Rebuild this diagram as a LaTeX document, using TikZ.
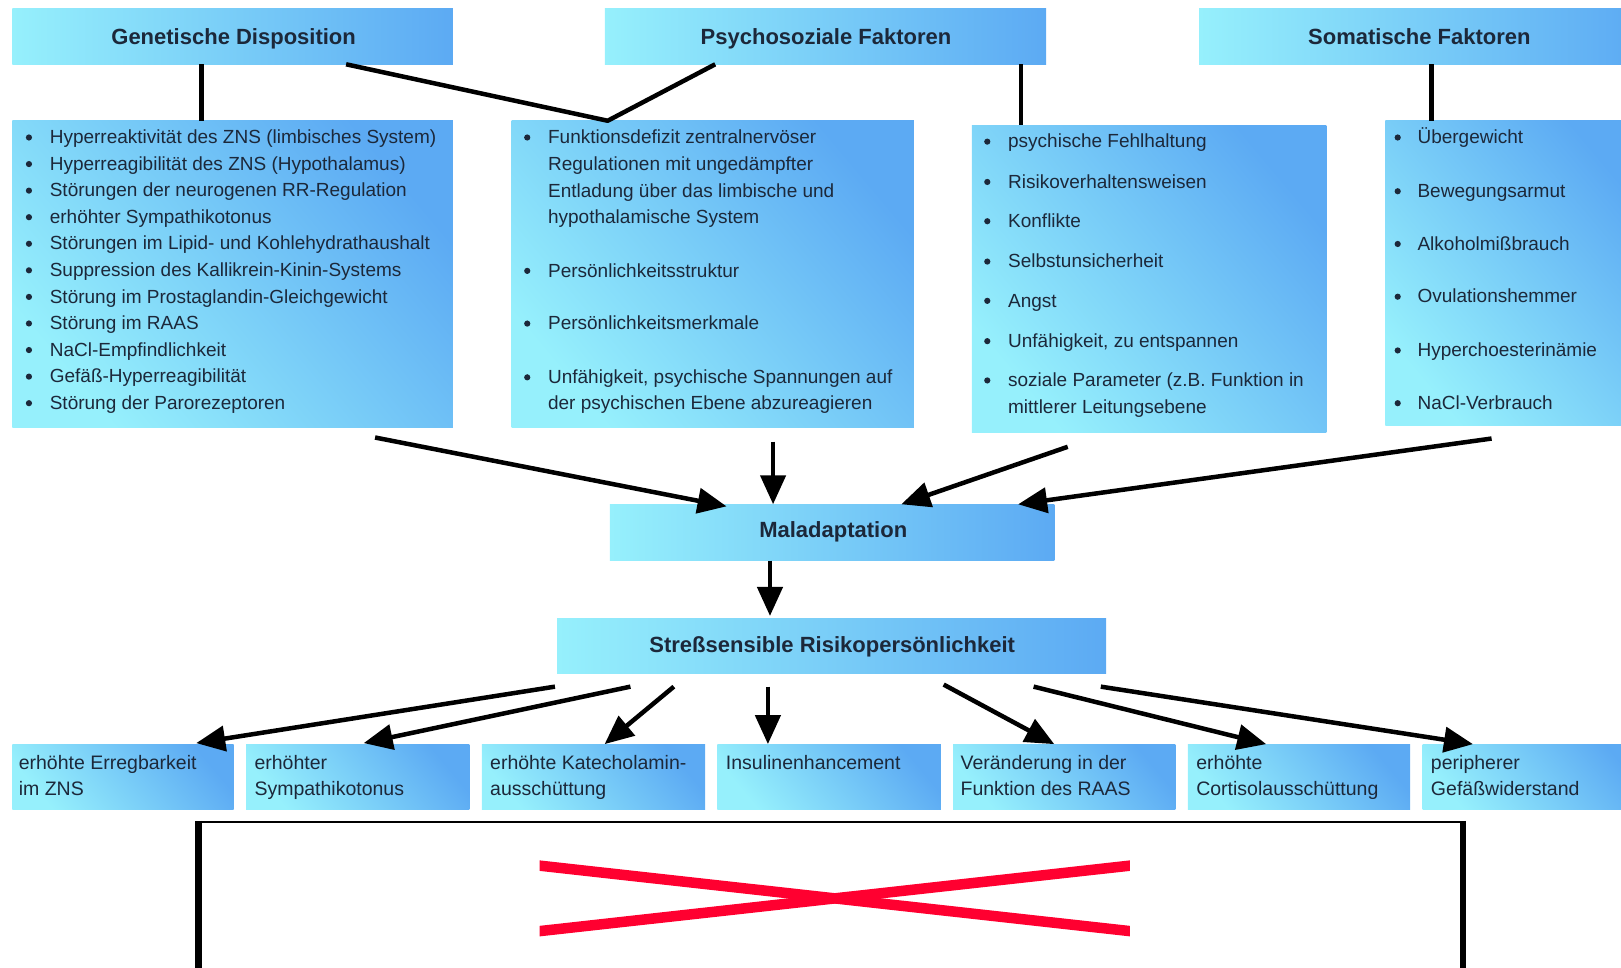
\documentclass[tikz,border=0pt]{standalone}
\usepackage{fontspec}
\setmainfont{Liberation Sans}
\usetikzlibrary{arrows.meta,calc,fit}
\definecolor{cyanL}{RGB}{150,240,252}
\definecolor{blueR}{RGB}{92,170,243}
\definecolor{txtc}{RGB}{28,40,58}
\definecolor{xred}{RGB}{255,0,48}
\newcommand\Li[4]{\node[txt] (#1) at (#2,#3+6) {#4};}
\newcommand\Bu[2]{\fill[txtc] (#1,#2) circle[radius=3.1pt];}
\begin{document}
\begin{tikzpicture}[x=1.0338pt,y=-1.0338pt,
 hbox/.style={inner sep=0pt, left color=cyanL, right color=blueR, draw=none},
 htxt/.style={inner sep=0pt, anchor=base, font=\fontsize{22}{26}\selectfont\bfseries, text=txtc},
 bbox/.style={inner sep=0pt, top color=blueR, bottom color=cyanL, shading angle=-50, draw=none},
 txt/.style={inner sep=0pt, anchor=base west, font=\fontsize{19}{26}\selectfont, text=txtc},
 btxt/.style={inner sep=0pt, anchor=base west, font=\fontsize{19.5}{26}\selectfont, text=txtc},
 arr/.style={line width=4.5pt, -{Triangle[length=29pt,width=25pt]}, black},
 ln/.style={line width=4.5pt, black},
]
\useasboundingbox (0,0) rectangle (1568,936);

% headers
\node[hbox, fit={(12,8) (438,62)}] (gh) {};
\node[hbox, fit={(585,8) (1012,62)}] (ph) {};
\node[hbox, fit={(1160,8) (1586,62)}] (sh) {};
\node[htxt] (ght) at (226,43) {Genetische Disposition};
\node[htxt] (pht) at (799,43) {Psychosoziale Faktoren};
\node[htxt] (sht) at (1373,43) {Somatische Faktoren};

% body boxes
\node[bbox, fit={(12,117) (438,414)}] (gb) {};
\node[bbox, fit={(495,117) (884,414)}] (pb) {};
\node[bbox, fit={(940,121) (1283,418)}] (qb) {};
\node[bbox, fit={(1340,117) (1590,412)}] (sb) {};

% G list
\foreach \i/\t in {0/{Hyperreaktivität des ZNS (limbisches System)},
  1/{Hyperreagibilität des ZNS (Hypothalamus)},
  2/{Störungen der neurogenen RR-Regulation},
  3/{erhöhter Sympathikotonus},
  4/{Störungen im Lipid- und Kohlehydrathaushalt},
  5/{Suppression des Kallikrein-Kinin-Systems},
  6/{Störung im Prostaglandin-Gleichgewicht},
  7/{Störung im RAAS},
  8/{NaCl-Empfindlichkeit},
  9/{Gefäß-Hyperreagibilität},
  10/{Störung der Parorezeptoren}}{
  \pgfmathsetmacro\yy{133+25.7*\i}
  \Bu{28}{\yy}
  \Li{g\i}{48}{\yy}{\t}
}

% P list
\Bu{510}{133}\Li{p1}{530}{133}{Funktionsdefizit zentralnervöser}
\Li{p2}{530}{159}{Regulationen mit ungedämpfter}
\Li{p3}{530}{185}{Entladung über das limbische und}
\Li{p4}{530}{210}{hypothalamische System}
\Bu{510}{262}\Li{p5}{530}{262}{Persönlichkeitsstruktur}
\Bu{510}{313}\Li{p6}{530}{313}{Persönlichkeitsmerkmale}
\Bu{510}{365}\Li{p7}{530}{365}{Unfähigkeit, psychische Spannungen auf}
\Li{p8}{530}{390}{der psychischen Ebene abzureagieren}

% Q list
\Bu{955}{137}\Li{q1}{975}{137}{psychische Fehlhaltung}
\Bu{955}{176}\Li{q2}{975}{176}{Risikoverhaltensweisen}
\Bu{955}{214}\Li{q3}{975}{214}{Konflikte}
\Bu{955}{253}\Li{q4}{975}{253}{Selbstunsicherheit}
\Bu{955}{291}\Li{q5}{975}{291}{Angst}
\Bu{955}{330}\Li{q6}{975}{330}{Unfähigkeit, zu entspannen}
\Bu{955}{368}\Li{q7}{975}{368}{soziale Parameter (z.B. Funktion in}
\Li{q8}{975}{394}{mittlerer Leitungsebene}

% S list
\Bu{1352}{133}\Li{s1}{1371}{133}{Übergewicht}
\Bu{1352}{185}\Li{s2}{1371}{185}{Bewegungsarmut}
\Bu{1352}{236}\Li{s3}{1371}{236}{Alkoholmißbrauch}
\Bu{1352}{287}\Li{s4}{1371}{287}{Ovulationshemmer}
\Bu{1352}{339}\Li{s5}{1371}{339}{Hyperchoesterinämie}
\Bu{1352}{390}\Li{s6}{1371}{390}{NaCl-Verbrauch}

% middle boxes
\node[hbox, fit={(590,488) (1020,542)}] (ma) {};
\node[hbox, fit={(539,598) (1070,651)}] (st) {};
\node[htxt] (mat) at (806,520) {Maladaptation};
\node[htxt] (stt) at (805,631) {Streßsensible Risikopersönlichkeit};

% bottom boxes
\node[bbox, fit={(12,720) (226,783)}] (b1) {};
\node[bbox, fit={(238,720) (454,783)}] (b2) {};
\node[bbox, fit={(466,720) (682,783)}] (b3) {};
\node[bbox, fit={(694,720) (910,783)}] (b4) {};
\node[bbox, fit={(922,720) (1137,783)}] (b5) {};
\node[bbox, fit={(1149,720) (1364,783)}] (b6) {};
\node[bbox, fit={(1376,720) (1592,783)}] (b7) {};
\node[btxt] (t1a) at (18,744) {erhöhte Erregbarkeit};
\node[btxt] (t1b) at (18,769) {im ZNS};
\node[btxt] (t2a) at (246,744) {erhöhter};
\node[btxt] (t2b) at (246,769) {Sympathikotonus};
\node[btxt] (t3a) at (474,744) {erhöhte Katecholamin-};
\node[btxt] (t3b) at (474,769) {ausschüttung};
\node[btxt] (t4a) at (702,744) {Insulinenhancement};
\node[btxt] (t5a) at (929,744) {Veränderung in der};
\node[btxt] (t5b) at (929,769) {Funktion des RAAS};
\node[btxt] (t6a) at (1157,744) {erhöhte};
\node[btxt] (t6b) at (1157,769) {Cortisolausschüttung};
\node[btxt] (t7a) at (1384,744) {peripherer};
\node[btxt] (t7b) at (1384,769) {Gefäßwiderstand};

% header connectors
\draw[ln] ($(gh.south west)+(183,0)$) -- ($(gb.north west)+(183,0)$);
\draw[ln, line join=round] ($(gh.south west)+(323,0)$) -- ($(pb.north west)+(93,0)$) -- ($(ph.south west)+(107,0)$);
\draw[ln] ($(ph.south west)+(403,0)$) -- ($(qb.north west)+(48,0)$);
\draw[ln] ($(sh.south west)+(225,0)$) -- ($(sb.north west)+(45,0)$);

% arrows to Maladaptation
\draw[arr] ($(gb.south west)+(351,9)$) -- ($(ma.north west)+(113,2)$);
\draw[arr] ($(pb.south west)+(253,13)$) -- ($(ma.north west)+(158,0)$);
\draw[arr] ($(qb.south west)+(93,14)$) -- ($(ma.north west)+(282,0)$);
\draw[arr] ($(sb.south west)+(103,12)$) -- ($(ma.north west)+(395,0)$);
\draw[arr] ($(ma.south west)+(155,0)$) -- ($(st.north west)+(206,-2)$);

% arrows to bottom boxes
\draw[arr] ($(st.south west)+(-2,13)$) -- ($(b1.north west)+(178,-1)$);
\draw[arr] ($(st.south west)+(71,13)$) -- ($(b2.north west)+(114,-1)$);
\draw[arr] ($(st.south west)+(113,13)$) -- ($(b3.north west)+(119,0)$);
\draw[arr] ($(st.south west)+(204,13)$) -- ($(b4.north west)+(49,0)$);
\draw[arr] ($(st.south west)+(374,11)$) -- ($(b5.north west)+(98,0)$);
\draw[arr] ($(st.south west)+(461,13)$) -- ($(b6.north west)+(76,0)$);
\draw[arr] ($(st.south west)+(526,13)$) -- ($(b7.north west)+(49,0)$);

% broken image placeholder
\draw[line width=2pt] (192,795) -- (1415,795);
\draw[line width=6.5pt] (192,794) -- (192,960);
\draw[line width=6.5pt] (1415,794) -- (1415,960);
\begin{scope}
\clip (522,820) rectangle (1093,920);
\draw[xred, line width=10.5pt] (510,836) -- (1105,902);
\draw[xred, line width=10.5pt] (510,902) -- (1105,836);
\end{scope}
\end{tikzpicture}
\end{document}
